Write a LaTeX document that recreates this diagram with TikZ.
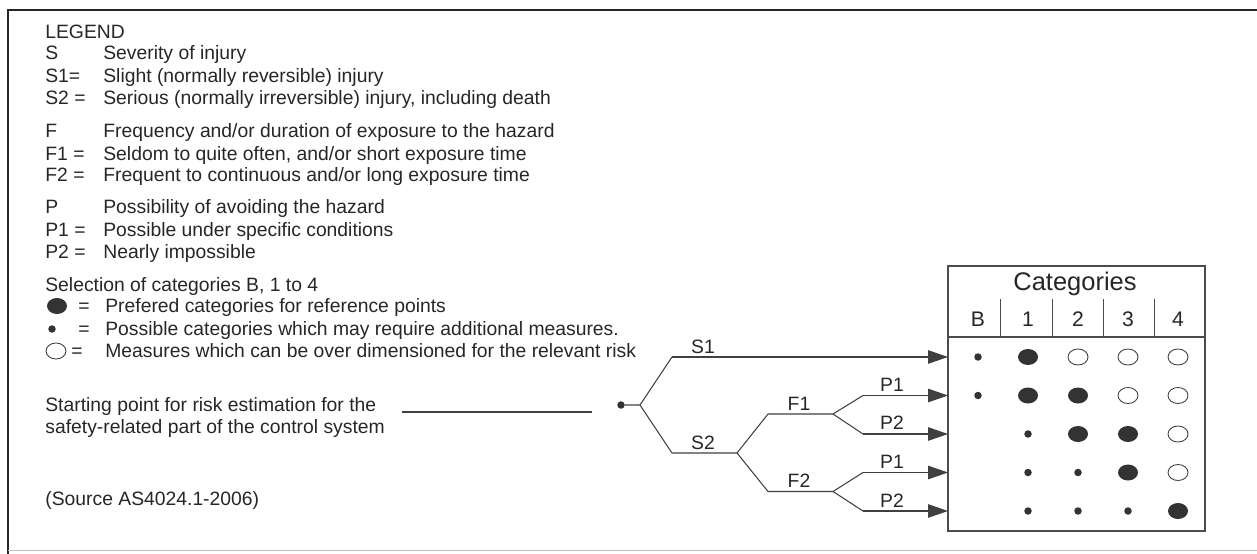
\documentclass[tikz,border=0pt]{standalone}
\usepackage{fontspec}
\setmainfont{Liberation Sans}
\usetikzlibrary{shapes.geometric}
\usetikzlibrary{positioning}
\usetikzlibrary{arrows.meta}

\begin{document}
\begin{tikzpicture}[x=0.02cm,y=-0.02cm,
	txt/.style={anchor=base west,inner sep=0,text=black!85,font=\fontsize{11}{13}\selectfont},
	lbl/.style={anchor=south,inner sep=1pt,text=black!85,font=\fontsize{11}{13}\selectfont},
	bigdot/.style={ellipse,fill=black!80,minimum width=0.4cm,minimum height=0.32cm,inner sep=0},
	smalldot/.style={circle,fill=black!80,minimum size=0.15cm,inner sep=0},
	opendot/.style={ellipse,draw=black!75,line width=0.5pt,minimum width=0.4cm,minimum height=0.32cm,inner sep=0},
	branch/.style={draw=black!75,line width=0.6pt},
	tip/.style={-{Triangle[length=0.4cm,width=0.27cm]}}]
\useasboundingbox (0,0) rectangle (1257,554);

%frame
\draw[line width=1.2pt,black!85] (8,554) -- (8,10) -- (1257,10);
\draw[black!25] (8,550) -- (1257,550);

%legend
\node[txt] (leg) at (45,39) {LEGEND};
\foreach \y/\k/\t [count=\i] in {
	60/S/{Severity of injury},
	83/S1=/{Slight (normally reversible) injury},
	105/S2 =/{Serious (normally irreversible) injury, including death},
	137/F/{Frequency and/or duration of exposure to the hazard},
	160/F1 =/{Seldom to quite often, and/or short exposure time},
	181/F2 =/{Frequent to continuous and/or long exposure time},
	213/P/{Possibility of avoiding the hazard},
	236/P1 =/{Possible under specific conditions},
	258/P2 =/{Nearly impossible}}{
	\node[txt] (k\i) at (45,\y) {\k};
	\node[txt] (t\i) at (103,\y) {\t};}

%selection of categories
\node[txt] (sel) at (45,291) {Selection of categories B, 1 to 4};
\node[bigdot] (lb) at (57,306) {};
\node[smalldot] (ls) at (52,329) {};
\node[opendot] (lo) at (56,351) {};
\node[txt] (eb) at (78,312) {=};
\node[txt] (es) at (78,335) {=};
\node[txt] (eo) at (71,357) {=};
\node[txt] (db) at (105,312) {Prefered categories for reference points};
\node[txt] (ds) at (105,335) {Possible categories which may require additional measures.};
\node[txt] (do) at (105,357) {Measures which can be over dimensioned for the relevant risk};

%starting point
\node[txt] (st1) at (45,411) {Starting point for risk estimation for the};
\node[txt] (st2) at (45,433) {safety-related part of the control system};
\coordinate (ulA) at (402,412);
\coordinate (ulB) at (592,412);
\draw[branch] (ulA) -- (ulB);
\node[txt] (src) at (45,505) {(Source AS4024.1-2006)};

%table
\draw[black!70,line width=0.6pt] (948,266) rectangle (1205,531);
\draw[black!70,line width=0.6pt] (948,337) -- (1205,337);
\foreach \x in {1000,1052,1103,1154}{
	\draw[black!70,line width=0.5pt] (\x,299) -- (\x,337);}
\node[text=black!85,font=\fontsize{14.5}{16}\selectfont] (cat) at (1075,284) {Categories};
\foreach \c [count=\j] in {B,1,2,3,4}{
	\node[text=black!85,font=\fontsize{12}{14}\selectfont] (h\j) at ({978+50*(\j-1)},319) {\c};}
\foreach \i in {1,...,5}{
	\coordinate (in\i) at (948,{357+38.5*(\i-1)});}

%dots per row/column
\foreach \i/\j/\d in {1/1/smalldot,1/2/bigdot,1/3/opendot,1/4/opendot,1/5/opendot,
	2/1/smalldot,2/2/bigdot,2/3/bigdot,2/4/opendot,2/5/opendot,
	3/2/smalldot,3/3/bigdot,3/4/bigdot,3/5/opendot,
	4/2/smalldot,4/3/smalldot,4/4/bigdot,4/5/opendot,
	5/2/smalldot,5/3/smalldot,5/4/smalldot,5/5/bigdot}{
	\node[\d] (c\i\j) at ({978+50*(\j-1)},{357+38.5*(\i-1)}) {};}

%risk graph
\node[smalldot] (start) at (621,405) {};
\coordinate (br) at (640,405);
\coordinate (s1) at (672,357);
\coordinate (s2) at (672,453);
\coordinate (s2e) at (737,453);
\coordinate (f1) at (768,414);
\coordinate (f1e) at (833,414);
\coordinate (f2) at (768,491.5);
\coordinate (f2e) at (833,491.5);
\foreach \i in {2,...,5}{
	\coordinate (p\i) at (863,{357+38.5*(\i-1)});}
\draw[branch] (start) -- (br) -- (s1);
\draw[branch] (br) -- (s2) -- (s2e) -- (f1) -- (f1e) -- (p2);
\draw[branch] (f1e) -- (p3);
\draw[branch] (s2e) -- (f2) -- (f2e) -- (p4);
\draw[branch] (f2e) -- (p5);
\draw[branch,tip] (s1) -- (in1);
\foreach \i in {2,...,5}{
	\draw[branch,tip] (p\i) -- (in\i);}

%branch labels
\node[lbl] (ls1) at (703,356) {S1};
\node[lbl] (ls2) at (703,452) {S2};
\node[lbl] (lf1) at (799,413) {F1};
\node[lbl] (lf2) at (799,490) {F2};
\node[lbl] (lp1a) at (892,394) {P1};
\node[lbl] (lp2a) at (892,432) {P2};
\node[lbl] (lp1b) at (892,471) {P1};
\node[lbl] (lp2b) at (892,510) {P2};
\end{tikzpicture}
\end{document}
